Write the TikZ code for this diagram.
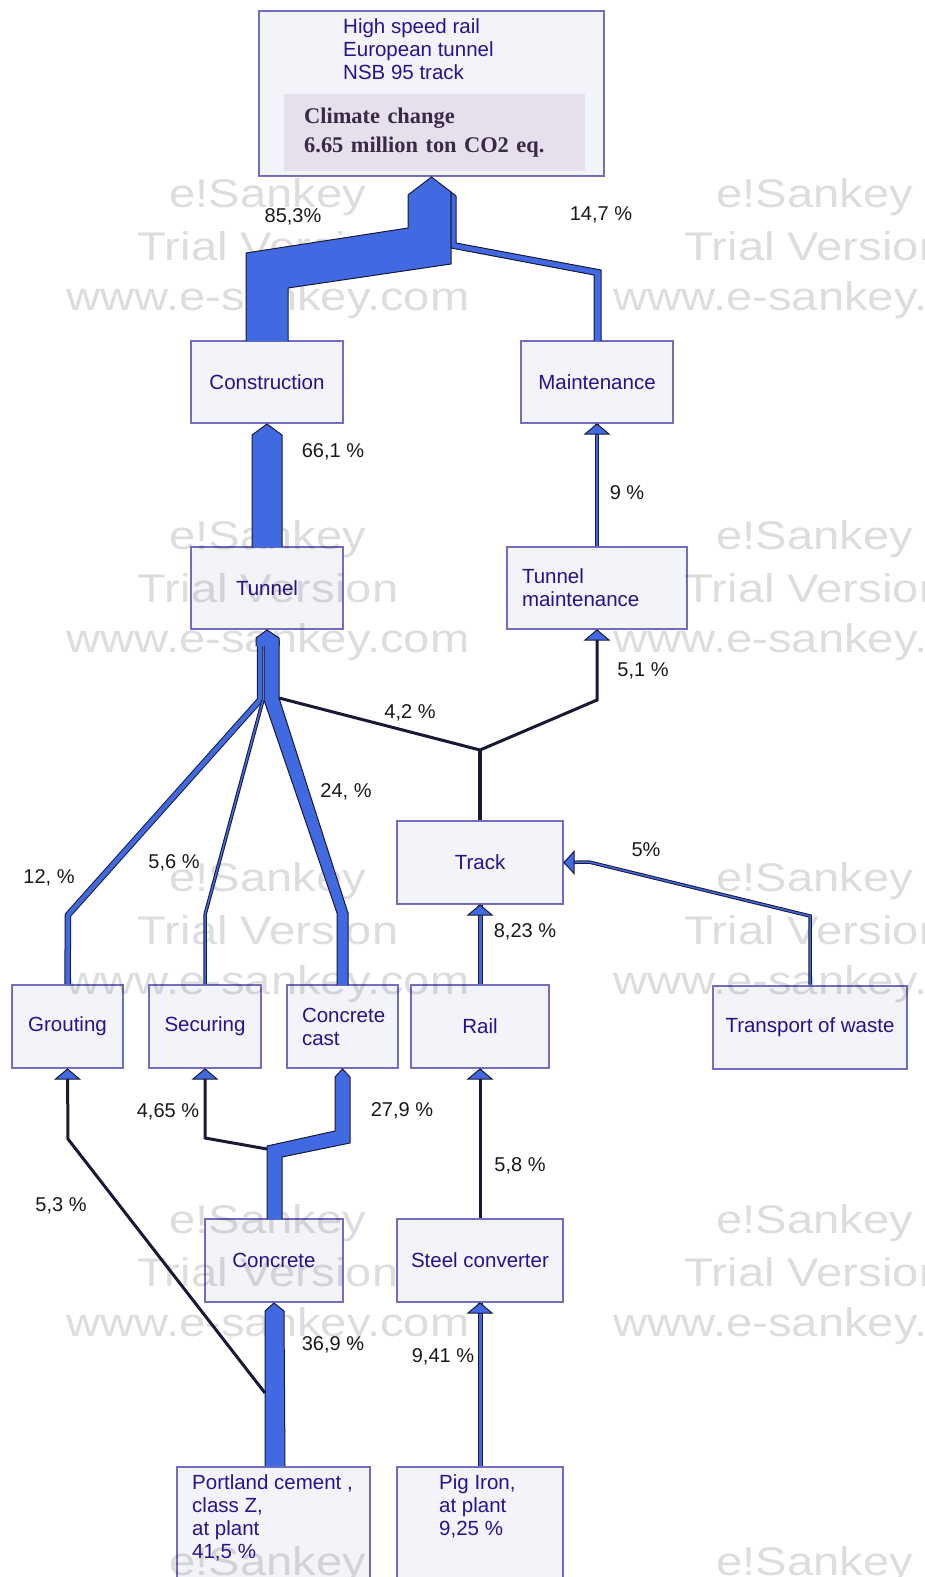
\documentclass[tikz,border=0pt]{standalone}
\usepackage{fontspec}
\setmainfont{Liberation Sans}
\newfontfamily\impactfont{Liberation Serif}
\usepackage{xcolor}
\definecolor{boxfill}{RGB}{243,243,250}
\definecolor{boxline}{RGB}{118,112,192}
\definecolor{boxtext}{RGB}{42,18,140}
\definecolor{flowblue}{RGB}{65,105,225}
\definecolor{flowdark}{RGB}{24,26,52}
\definecolor{impactfill}{RGB}{229,224,236}
\definecolor{impacttext}{RGB}{58,42,72}
\definecolor{wmgray}{RGB}{221,221,221}
\tikzset{
  every picture/.style={line join=miter},
  box/.style={draw=boxline, line width=2pt, fill=boxfill, text=boxtext,
    font=\fontsize{20.5}{23}\selectfont, inner sep=0pt, blend mode=multiply},
  boxlabel/.style={text=boxtext, font=\fontsize{20.5}{23}\selectfont, align=left,
    inner sep=0pt, anchor=north west},
  pct/.style={text=black!90, font=\fontsize{20}{23}\selectfont, inner sep=0pt},
  wmark/.style={text=wmgray, font=\fontsize{40}{46}\selectfont, xscale=1.18,
    anchor=base, inner sep=0pt},
  band/.style={fill=flowblue, draw=flowdark, line width=1pt},
  flow/.style={draw=flowdark, line width=1pt, double=flowblue, double distance=#1},
  darkflow/.style={draw=flowdark, line width=3pt},
  head/.style={fill=flowblue, draw=flowdark, line width=1pt},
}
\newcommand{\uphead}[1]{\filldraw[head] #1 ++(-12,10) -- ++(12,-10) -- ++(12,10) -- cycle;}
\newcommand{\lefthead}[1]{\filldraw[head] #1 ++(10,-11) -- ++(-10,11) -- ++(10,11) -- cycle;}

\begin{document}
\begin{tikzpicture}[x=1pt,y=-1pt]
\useasboundingbox (0,0) rectangle (925,1577);
\clip (0,0) rectangle (925,1577);

\foreach \r in {0,...,4}
  \foreach \c/\cx in {l/268,r/815} {
    \node[wmark] (wm\c\r a) at (\cx,207+342*\r) {e!Sankey};
    \ifnum\r<4
      \node[wmark] (wm\c\r b) at (\cx,260+342*\r) {Trial Version};
      \node[wmark] (wm\c\r c) at (\cx,310+342*\r) {www.e-sankey.com};
    \fi
  }

\node[box, minimum width=345, minimum height=165] (top) at (431.5,93.5) {};
\node[boxlabel] (title) at (343,18) {High speed rail\\European tunnel\\NSB 95 track};
\node[fill=impactfill, minimum width=301, minimum height=77, text width=261,
  inner xsep=20, inner ysep=0, align=left, text=impacttext, anchor=north west,
  font=\impactfont\bfseries\fontsize{22.4}{29}\selectfont] (impact) at (284,94)
  {Climate change\\6.65 million ton CO2 eq.};

\node[box, minimum width=152, minimum height=82] (constr) at (267,382) {Construction};
\node[box, minimum width=152, minimum height=82] (maint) at (597,382) {Maintenance};
\node[box, minimum width=152, minimum height=82] (tunnel) at (267,588) {Tunnel};
\node[box, minimum width=180, minimum height=82, text width=150, inner xsep=15,
  align=left] (tmaint) at (597,588) {Tunnel\\maintenance};
\node[box, minimum width=166, minimum height=83] (track) at (480,862.5) {Track};
\node[box, minimum width=111, minimum height=83] (grout) at (67.5,1026.5) {Grouting};
\node[box, minimum width=112, minimum height=83] (secur) at (205,1026.5) {Securing};
\node[box, minimum width=111, minimum height=83, text width=81, inner xsep=15,
  align=left] (ccast) at (342.5,1026.5) {Concrete\\cast};
\node[box, minimum width=138, minimum height=83] (rail) at (480,1026.5) {Rail};
\node[box, minimum width=194, minimum height=83] (waste) at (810,1027) {Transport of waste};
\node[box, minimum width=138, minimum height=83] (concr) at (274,1260.5) {Concrete};
\node[box, minimum width=166, minimum height=83] (steel) at (480,1260.5) {Steel converter};
\node[box, minimum width=193, minimum height=140, anchor=north] (portland) at (273.5,1466) {};
\node[box, minimum width=166, minimum height=140, anchor=north] (pig) at (480,1466) {};
\node[boxlabel] (portlandtxt) at (192,1474) {Portland cement ,\\class Z,\\at plant\\41,5 \%};
\node[boxlabel] (pigtxt) at (439,1474) {Pig Iron,\\at plant\\9,25 \%};

\filldraw[band] (246,341) -- (246,253) -- (408,228) -- (408,195) -- (top.south)
  -- (451,192) -- (451,264) -- (288,288) -- (288,341);
\filldraw[band] (594,341) -- (594,275) -- (451,248) -- (451,192) -- (456,196)
  -- (456,243) -- (601,270) -- (601,341);
\filldraw[band] (252,547) -- (252,435) -- (constr.south) -- (282,435) -- (282,547);
\draw[flow=2.5pt] (tmaint.north) -- (maint.south);
\uphead{(maint.south)}

\draw[flow=4.5pt] (260,640) -- (260,700) -- (68,915) -- (grout.north);
\draw[flow=1.5pt] (263,700) -- (205,915) -- (secur.north);
\filldraw[band] (337,985) -- (337,913) -- (264,700) -- (264,640) -- (279,640)
  -- (279,698) -- (348,913) -- (348,985);
\filldraw[band] (256,646) -- (256,638) -- (tunnel.south) -- (279,638) -- (279,646);
\draw[darkflow] (279,698) -- (480,750);
\draw[darkflow] (480,750) -- (597,700) -- (tmaint.south);
\uphead{(tmaint.south)}
\draw[darkflow, line width=4pt] (480,750) -- (track.north);

\draw[flow=1.5pt] (waste.north) -- (810,916) -- (589,862) -- (track.east);
\lefthead{(track.east)}
\draw[flow=3pt] (rail.north) -- (track.south);
\uphead{(track.south)}
\draw[darkflow] (steel.north) -- (rail.south);
\uphead{(rail.south)}
\draw[flow=3pt] (pig.north) -- (steel.south);
\uphead{(steel.south)}

\filldraw[band] (267,1219) -- (267,1146) -- (335,1131) -- (335,1077) -- (ccast.south)
  -- (350,1077) -- (350,1143) -- (282,1157) -- (282,1219);
\draw[darkflow] (267,1149) -- (205,1138) -- (secur.south);
\uphead{(secur.south)}
\filldraw[band] (265,1466) -- (265,1311) -- (concr.south) -- (284,1311) -- (285,1466);
\draw[darkflow] (265,1393) -- (68,1139) -- (grout.south);
\uphead{(grout.south)}

\node[pct] (p853) at (293,217) {85,3\%};
\node[pct] (p147) at (601,215) {14,7 \%};
\node[pct] (p661) at (333,452) {66,1 \%};
\node[pct] (p9) at (627,493) {9 \%};
\node[pct] (p51) at (643,671) {5,1 \%};
\node[pct] (p42) at (410,713) {4,2 \%};
\node[pct] (p24) at (346,792) {24, \%};
\node[pct] (p12) at (49,878) {12, \%};
\node[pct] (p56) at (174,863) {5,6 \%};
\node[pct] (p823) at (525,932) {8,23 \%};
\node[pct] (p5) at (646,850) {5\%};
\node[pct] (p465) at (168,1112) {4,65 \%};
\node[pct] (p279) at (402,1111) {27,9 \%};
\node[pct] (p58) at (520,1166) {5,8 \%};
\node[pct] (p53) at (61,1206) {5,3 \%};
\node[pct] (p369) at (333,1345) {36,9 \%};
\node[pct] (p941) at (443,1357) {9,41 \%};
\end{tikzpicture}
\end{document}
